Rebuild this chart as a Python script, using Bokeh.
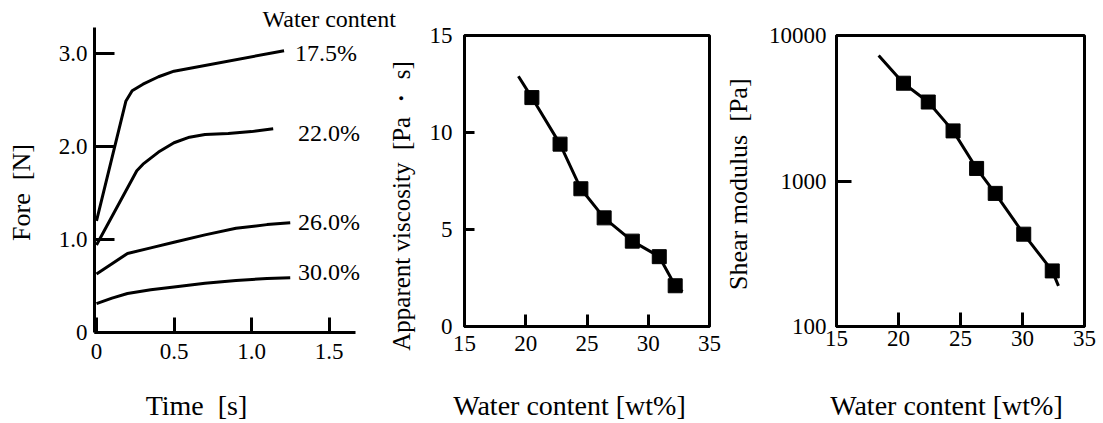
from bokeh.plotting import figure
from bokeh.layouts import row
from bokeh.models import Label, FixedTicker, Range1d
from bokeh.embed import file_html
from bokeh.resources import INLINE

FONT = "Liberation Serif"
NB = "\u00a0"

# ---------------- data ----------------
# Panel 1: force vs time for several water contents
time_175 = [0.0, 0.19, 0.23, 0.30, 0.40, 0.50, 1.21]
force_175 = [1.20, 2.49, 2.60, 2.67, 2.75, 2.81, 3.03]
time_220 = [0.0, 0.26, 0.30, 0.40, 0.50, 0.60, 0.70, 0.85, 1.00, 1.14]
force_220 = [0.94, 1.74, 1.81, 1.94, 2.04, 2.10, 2.13, 2.14, 2.16, 2.19]
time_260 = [0.0, 0.10, 0.20, 0.35, 0.50, 0.70, 0.90, 1.10, 1.25]
force_260 = [0.63, 0.74, 0.85, 0.91, 0.97, 1.05, 1.12, 1.16, 1.18]
time_300 = [0.0, 0.10, 0.20, 0.35, 0.50, 0.70, 0.90, 1.10, 1.25]
force_300 = [0.31, 0.37, 0.42, 0.46, 0.49, 0.53, 0.56, 0.58, 0.59]
curve_labels = ["17.5%", "22.0%", "26.0%", "30.0%"]
label_time = [1.28, 1.30, 1.30, 1.30]
label_force = [3.01, 2.14, 1.19, 0.65]
time_ticks = [0, 0.5, 1.0, 1.5]
time_tick_labels = ["0", "0.5", "1.0", "1.5"]
force_ticks = [0, 1, 2, 3]
force_tick_labels = ["0", "1.0", "2.0", "3.0"]

# Panel 2: apparent viscosity vs water content
visc_water = [20.5, 22.8, 24.5, 26.4, 28.7, 30.9, 32.2]
visc_value = [11.8, 9.4, 7.1, 5.6, 4.4, 3.6, 2.1]
visc_line_water = [19.4, 20.5, 22.8, 24.5, 26.4, 28.7, 30.9, 32.2, 32.8]
visc_line_value = [12.9, 11.8, 9.4, 7.1, 5.6, 4.4, 3.6, 2.1, 1.8]
water_ticks = [15, 20, 25, 30, 35]
visc_ticks = [0, 5, 10, 15]

# Panel 3: shear modulus vs water content
mod_water = [20.4, 22.4, 24.4, 26.3, 27.8, 30.1, 32.4]
mod_value = [4700, 3490, 2210, 1220, 822, 431, 241]
mod_line_water = [18.4, 20.4, 22.4, 24.4, 26.3, 27.8, 30.1, 32.4, 32.9]
mod_line_value = [7300, 4700, 3490, 2210, 1220, 822, 431, 241, 190]
mod_ticks = [100, 1000, 10000]
mod_tick_labels = ["100", "1000", "10000"]


# ---------------- helpers ----------------
def style_axes(p):
    for ax in (p.xaxis[0], p.yaxis[0]):
        ax.axis_line_width = 3
        ax.axis_line_color = "black"
        ax.major_tick_line_width = 3
        ax.major_tick_line_color = "black"
        ax.major_tick_out = 0
        ax.minor_tick_in = 0
        ax.minor_tick_out = 0
        ax.major_label_text_font = FONT
        ax.major_label_text_font_size = "23px"
        ax.major_label_text_color = "black"
        ax.axis_label_text_font = FONT
        ax.axis_label_text_font_style = "normal"
        ax.axis_label_text_color = "black"
        ax.axis_label_text_font_size = "28px"
    p.xgrid.visible = False
    p.ygrid.visible = False


H = 423

# ---------------- panel 1 ----------------
W1 = 410
x1s = -2 / 155
x1e = x1s + (W1 - 94) / 155
y1e = 332 / 93
p1 = figure(width=W1, height=H, output_backend="svg", toolbar_location=None,
            x_range=Range1d(x1s, x1e), y_range=Range1d(0, y1e),
            min_border_left=94, min_border_right=0, min_border_top=0,
            min_border_bottom=H - 332, frame_align=False)
p1.outline_line_color = None
style_axes(p1)
p1.xaxis.bounds = (x1s, 1.67)
p1.yaxis.bounds = (0, 3.28)
p1.xaxis.ticker = FixedTicker(ticks=time_ticks)
p1.xaxis.major_label_overrides = dict(zip(time_ticks, time_tick_labels))
p1.yaxis.ticker = FixedTicker(ticks=force_ticks)
p1.yaxis.major_label_overrides = dict(zip(force_ticks, force_tick_labels))
p1.xaxis.major_tick_in = 15
p1.yaxis.major_tick_in = 20
p1.xaxis.major_label_standoff = 11
p1.yaxis.major_label_standoff = 7
p1.xaxis.axis_label = "Time " + NB + "[s]" + NB * 16
p1.xaxis.axis_label_standoff = 28
p1.yaxis.axis_label = "Fore " + NB + "[N]" + NB * 8
p1.yaxis.axis_label_text_font_size = "26px"
p1.yaxis.axis_label_standoff = 20

for tx, fy in ((time_175, force_175), (time_220, force_220),
               (time_260, force_260), (time_300, force_300)):
    p1.line(tx, fy, line_width=3, line_color="black", line_join="round")
for lbl, lx, ly in zip(curve_labels, label_time, label_force):
    p1.add_layout(Label(x=lx, y=ly, text=lbl, text_align="left", text_baseline="middle",
                        text_font=FONT, text_font_size="24px", text_color="black"))
# header text above the curve labels (inside the frame area)
p1.add_layout(Label(x=x1s + (262 - 94) / 155, y=(332 - 18) / 93, text="Water content",
                    text_align="left", text_baseline="middle",
                    text_font=FONT, text_font_size="24px", text_color="black"))

# ---------------- panel 2 ----------------
W2 = 355
p2 = figure(width=W2, height=H, output_backend="svg", toolbar_location=None,
            x_range=Range1d(15, 35), y_range=Range1d(0, 15),
            min_border_left=464 - 375, min_border_right=730 - 709,
            min_border_top=35, min_border_bottom=H - 326,
            margin=(0, 0, 0, -35), frame_align=False)
p2.border_fill_color = None
p2.outline_line_color = "black"
p2.outline_line_width = 3
style_axes(p2)
p2.xaxis.ticker = FixedTicker(ticks=water_ticks)
p2.yaxis.ticker = FixedTicker(ticks=visc_ticks)
p2.xaxis.major_tick_in = 12
p2.yaxis.major_tick_in = 10
p2.xaxis.major_label_standoff = 9
p2.yaxis.major_label_standoff = 12
p2.xaxis.axis_label = "Water content [wt%]" + NB * 5
p2.xaxis.axis_label_standoff = 36
p2.yaxis.axis_label = "Apparent viscosity " + NB + "[Pa \u30fb s]" + NB * 8
p2.yaxis.axis_label_text_font_size = "25px"
p2.yaxis.axis_label_standoff = 12
p2.line(visc_line_water, visc_line_value, line_width=3, line_color="black")
p2.scatter(visc_water, visc_value, marker="square", size=14, color="black")

# ---------------- panel 3 ----------------
W3 = 383
p3 = figure(width=W3, height=H, output_backend="svg", toolbar_location=None,
            x_range=Range1d(15, 35), y_range=Range1d(100, 10000), y_axis_type="log",
            min_border_left=834 - 720, min_border_right=1103 - 1084,
            min_border_top=35, min_border_bottom=H - 328,
            margin=(0, 0, 0, -10), frame_align=False)
p3.border_fill_color = None
p3.outline_line_color = "black"
p3.outline_line_width = 3
style_axes(p3)
p3.xaxis.ticker = FixedTicker(ticks=water_ticks)
p3.yaxis.ticker = FixedTicker(ticks=mod_ticks, minor_ticks=[])
p3.yaxis.major_label_overrides = dict(zip(mod_ticks, mod_tick_labels))
p3.xaxis.major_tick_in = 14
p3.yaxis.major_tick_in = 15
p3.xaxis.major_label_standoff = 4
p3.yaxis.major_label_standoff = 10
p3.xaxis.axis_label = "Water content [wt%]" + NB * 4
p3.xaxis.axis_label_standoff = 41
p3.yaxis.axis_label = "Shear modulus " + NB + "[Pa]" + NB
p3.yaxis.axis_label_text_font_size = "26px"
p3.yaxis.axis_label_standoff = 13
p3.line(mod_line_water, mod_line_value, line_width=3, line_color="black")
p3.scatter(mod_water, mod_value, marker="square", size=14, color="black")

layout = row(p1, p2, p3)
open("out.html", "w").write(file_html(layout, INLINE))
